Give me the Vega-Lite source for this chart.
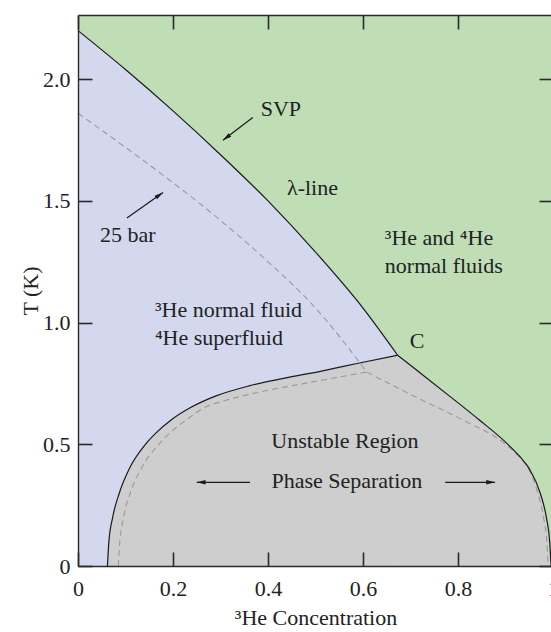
{
  "$schema": "https://vega.github.io/schema/vega-lite/v6.json",
  "width": 475,
  "height": 551,
  "autosize": {"type": "none"},
  "padding": {"left": 78, "top": 15, "right": 0, "bottom": 66},
  "background": "white",
  "config": {
    "view": {"fill": "#d4d8ee", "stroke": null},
    "axis": {
      "labelFont": "Liberation Serif", "labelFontSize": 22, "labelColor": "#222",
      "titleFont": "Liberation Serif", "titleFontSize": 22, "titleFontWeight": "normal", "titleColor": "#222",
      "grid": false, "tickSize": -14, "tickColor": "#2a2a2a", "tickWidth": 1.6,
      "domainColor": "#2a2a2a", "domainWidth": 1.4, "labelFlush": false, "labelOverlap": false
    },
    "text": {"font": "Liberation Serif", "fontSize": 22, "color": "#222"}
  },
  "datasets": {
    "curves": [
      {"curve": "lambda", "x": 0, "T": 2.2},
      {"curve": "lambda", "x": 0.1, "T": 2.04},
      {"curve": "lambda", "x": 0.2, "T": 1.87},
      {"curve": "lambda", "x": 0.3, "T": 1.69},
      {"curve": "lambda", "x": 0.4, "T": 1.5},
      {"curve": "lambda", "x": 0.5, "T": 1.29},
      {"curve": "lambda", "x": 0.6, "T": 1.06},
      {"curve": "lambda", "x": 0.673, "T": 0.866},
      {"curve": "domeL", "x": 0.062, "T": 0},
      {"curve": "domeL", "x": 0.065, "T": 0.1},
      {"curve": "domeL", "x": 0.073, "T": 0.2},
      {"curve": "domeL", "x": 0.087, "T": 0.3},
      {"curve": "domeL", "x": 0.108, "T": 0.4},
      {"curve": "domeL", "x": 0.142, "T": 0.5},
      {"curve": "domeL", "x": 0.166, "T": 0.55},
      {"curve": "domeL", "x": 0.196, "T": 0.6},
      {"curve": "domeL", "x": 0.236, "T": 0.65},
      {"curve": "domeL", "x": 0.292, "T": 0.7},
      {"curve": "domeL", "x": 0.36, "T": 0.74},
      {"curve": "domeL", "x": 0.43, "T": 0.77},
      {"curve": "domeL", "x": 0.51, "T": 0.8},
      {"curve": "domeL", "x": 0.59, "T": 0.833},
      {"curve": "domeL", "x": 0.673, "T": 0.866},
      {"curve": "domeR", "x": 0.673, "T": 0.866},
      {"curve": "domeR", "x": 0.716, "T": 0.8},
      {"curve": "domeR", "x": 0.781, "T": 0.7},
      {"curve": "domeR", "x": 0.845, "T": 0.6},
      {"curve": "domeR", "x": 0.905, "T": 0.5},
      {"curve": "domeR", "x": 0.93, "T": 0.45},
      {"curve": "domeR", "x": 0.95, "T": 0.4},
      {"curve": "domeR", "x": 0.973, "T": 0.3},
      {"curve": "domeR", "x": 0.986, "T": 0.2},
      {"curve": "domeR", "x": 0.993, "T": 0.1},
      {"curve": "domeR", "x": 0.996, "T": 0},
      {"curve": "domeR", "x": 1, "T": 0},
      {"curve": "lam25", "x": 0, "T": 1.86},
      {"curve": "lam25", "x": 0.1, "T": 1.72},
      {"curve": "lam25", "x": 0.2, "T": 1.575},
      {"curve": "lam25", "x": 0.3, "T": 1.42},
      {"curve": "lam25", "x": 0.4, "T": 1.25},
      {"curve": "lam25", "x": 0.5, "T": 1.06},
      {"curve": "lam25", "x": 0.608, "T": 0.797},
      {"curve": "dome25L", "x": 0.085, "T": 0},
      {"curve": "dome25L", "x": 0.088, "T": 0.1},
      {"curve": "dome25L", "x": 0.096, "T": 0.2},
      {"curve": "dome25L", "x": 0.11, "T": 0.3},
      {"curve": "dome25L", "x": 0.133, "T": 0.4},
      {"curve": "dome25L", "x": 0.17, "T": 0.5},
      {"curve": "dome25L", "x": 0.195, "T": 0.55},
      {"curve": "dome25L", "x": 0.228, "T": 0.6},
      {"curve": "dome25L", "x": 0.265, "T": 0.65},
      {"curve": "dome25L", "x": 0.31, "T": 0.68},
      {"curve": "dome25L", "x": 0.36, "T": 0.705},
      {"curve": "dome25L", "x": 0.42, "T": 0.73},
      {"curve": "dome25L", "x": 0.49, "T": 0.755},
      {"curve": "dome25L", "x": 0.608, "T": 0.797},
      {"curve": "dome25R", "x": 0.608, "T": 0.797},
      {"curve": "dome25R", "x": 0.705, "T": 0.7},
      {"curve": "dome25R", "x": 0.81, "T": 0.6},
      {"curve": "dome25R", "x": 0.9, "T": 0.5},
      {"curve": "dome25R", "x": 0.928, "T": 0.45},
      {"curve": "dome25R", "x": 0.948, "T": 0.4},
      {"curve": "dome25R", "x": 0.968, "T": 0.3},
      {"curve": "dome25R", "x": 0.98, "T": 0.2},
      {"curve": "dome25R", "x": 0.987, "T": 0.1},
      {"curve": "dome25R", "x": 0.99, "T": 0}
    ],
    "labelsLeft": [
      {"label": "³He and ⁴He", "x": 0.646, "T": 1.347},
      {"label": "normal fluids", "x": 0.646, "T": 1.232},
      {"label": "³He normal fluid", "x": 0.162, "T": 1.051},
      {"label": "⁴He superfluid", "x": 0.162, "T": 0.936},
      {"label": "λ-line", "x": 0.44, "T": 1.553}
    ],
    "labelsCenter": [
      {"label": "SVP", "x": 0.427, "T": 1.877},
      {"label": "25 bar", "x": 0.105, "T": 1.359},
      {"label": "C", "x": 0.714, "T": 0.923},
      {"label": "Unstable Region", "x": 0.562, "T": 0.512},
      {"label": "Phase Separation", "x": 0.566, "T": 0.348}
    ],
    "arrows": [
      {"name": "svp", "x": 0.368, "T": 1.843, "x2": 0.305, "T2": 1.749},
      {"name": "bar25", "x": 0.103, "T": 1.43, "x2": 0.179, "T2": 1.535},
      {"name": "left", "x": 0.362, "T": 0.344, "x2": 0.25, "T2": 0.344},
      {"name": "right", "x": 0.773, "T": 0.344, "x2": 0.878, "T2": 0.344}
    ]
  },
  "resolve": {"axis": {"x": "independent", "y": "independent"}},
  "layer": [
    {
      "data": {"name": "curves"},
      "transform": [{"filter": "datum.curve == 'lambda' || datum.curve == 'domeR'"}],
      "mark": {"type": "area", "color": "#bfdeb6", "interpolate": "monotone", "opacity": 1},
      "encoding": {
        "x": {"field": "x", "type": "quantitative", "scale": {"domain": [0, 1], "nice": false, "zero": false}, "axis": null},
        "y": {"field": "T", "type": "quantitative", "scale": {"domain": [0, 2.264], "nice": false, "zero": false}, "axis": null},
        "y2": {"datum": 2.264},
        "detail": {"field": "curve"}
      }
    },
    {
      "data": {"name": "curves"},
      "transform": [{"filter": "datum.curve == 'domeL' || datum.curve == 'domeR'"}],
      "mark": {"type": "area", "color": "#cdcecd", "interpolate": "monotone", "opacity": 1},
      "encoding": {
        "x": {"field": "x", "type": "quantitative", "axis": null},
        "y": {"field": "T", "type": "quantitative", "axis": null},
        "y2": {"datum": 0},
        "detail": {"field": "curve"}
      }
    },
    {
      "data": {"name": "curves"},
      "transform": [{"filter": "datum.curve == 'lam25' || datum.curve == 'dome25L' || datum.curve == 'dome25R'"}],
      "mark": {"type": "line", "color": "#9a9a9a", "strokeWidth": 1.1, "strokeDash": [6, 4], "interpolate": "monotone"},
      "encoding": {
        "x": {"field": "x", "type": "quantitative", "axis": null},
        "y": {"field": "T", "type": "quantitative", "axis": null},
        "detail": {"field": "curve"}
      }
    },
    {
      "data": {"name": "curves"},
      "transform": [{"filter": "datum.curve == 'lambda' || datum.curve == 'domeL' || (datum.curve == 'domeR' && datum.x < 1)"}],
      "mark": {"type": "line", "color": "#1a1a1a", "strokeWidth": 1.2, "interpolate": "monotone"},
      "encoding": {
        "x": {"field": "x", "type": "quantitative", "axis": null},
        "y": {"field": "T", "type": "quantitative", "axis": null},
        "detail": {"field": "curve"}
      }
    },
    {
      "data": {"name": "arrows"},
      "mark": {"type": "rule", "color": "#1a1a1a", "strokeWidth": 1.2},
      "encoding": {
        "x": {"field": "x", "type": "quantitative", "axis": null},
        "y": {"field": "T", "type": "quantitative", "axis": null},
        "x2": {"field": "x2"},
        "y2": {"field": "T2"}
      }
    },
    {
      "data": {"name": "arrows"},
      "transform": [{"filter": "datum.name == 'svp'"}],
      "mark": {"type": "point", "shape": "M0,0L-0.55,2.2L0.55,2.2Z", "filled": true, "color": "#1a1a1a", "size": 64, "angle": 233, "opacity": 1},
      "encoding": {
        "x": {"field": "x2", "type": "quantitative", "axis": null},
        "y": {"field": "T2", "type": "quantitative", "axis": null}
      }
    },
    {
      "data": {"name": "arrows"},
      "transform": [{"filter": "datum.name == 'bar25'"}],
      "mark": {"type": "point", "shape": "M0,0L-0.55,2.2L0.55,2.2Z", "filled": true, "color": "#1a1a1a", "size": 64, "angle": 55, "opacity": 1},
      "encoding": {
        "x": {"field": "x2", "type": "quantitative", "axis": null},
        "y": {"field": "T2", "type": "quantitative", "axis": null}
      }
    },
    {
      "data": {"name": "arrows"},
      "transform": [{"filter": "datum.name == 'left'"}],
      "mark": {"type": "point", "shape": "M0,0L-0.55,2.2L0.55,2.2Z", "filled": true, "color": "#1a1a1a", "size": 64, "angle": 270, "opacity": 1},
      "encoding": {
        "x": {"field": "x2", "type": "quantitative", "axis": null},
        "y": {"field": "T2", "type": "quantitative", "axis": null}
      }
    },
    {
      "data": {"name": "arrows"},
      "transform": [{"filter": "datum.name == 'right'"}],
      "mark": {"type": "point", "shape": "M0,0L-0.55,2.2L0.55,2.2Z", "filled": true, "color": "#1a1a1a", "size": 64, "angle": 90, "opacity": 1},
      "encoding": {
        "x": {"field": "x2", "type": "quantitative", "axis": null},
        "y": {"field": "T2", "type": "quantitative", "axis": null}
      }
    },
    {
      "data": {"name": "labelsLeft"},
      "mark": {"type": "text", "align": "left", "baseline": "middle"},
      "encoding": {
        "x": {"field": "x", "type": "quantitative", "axis": null},
        "y": {"field": "T", "type": "quantitative", "axis": null},
        "text": {"field": "label"}
      }
    },
    {
      "data": {"name": "labelsCenter"},
      "mark": {"type": "text", "align": "center", "baseline": "middle"},
      "encoding": {
        "x": {"field": "x", "type": "quantitative", "axis": null},
        "y": {"field": "T", "type": "quantitative", "axis": null},
        "text": {"field": "label"}
      }
    },
    {
      "data": {"name": "curves"},
      "transform": [{"filter": "datum.curve == 'lambda'"}],
      "mark": {"type": "point", "opacity": 0},
      "encoding": {
        "x": {"field": "x", "type": "quantitative",
          "axis": {"orient": "top", "labels": false, "title": null, "values": [0, 0.2, 0.4, 0.6, 0.8, 1], "zindex": 2}},
        "y": {"field": "T", "type": "quantitative",
          "axis": {"orient": "right", "labels": false, "title": null, "values": [0, 0.5, 1, 1.5, 2], "zindex": 2}}
      }
    },
    {
      "data": {"name": "curves"},
      "transform": [{"filter": "datum.curve == 'lambda'"}],
      "mark": {"type": "point", "opacity": 0},
      "encoding": {
        "x": {"field": "x", "type": "quantitative",
          "axis": {"orient": "bottom", "title": "³He Concentration", "values": [0, 0.2, 0.4, 0.6, 0.8, 1],
            "labelExpr": "datum.value == 0 || datum.value == 1 ? format(datum.value, 'd') : format(datum.value, '.1f')",
            "labelPadding": 26, "titlePadding": 8, "zindex": 2}},
        "y": {"field": "T", "type": "quantitative",
          "axis": {"orient": "left", "title": "T (K)", "values": [0, 0.5, 1, 1.5, 2],
            "labelExpr": "datum.value == 0 ? '0' : format(datum.value, '.1f')",
            "labelPadding": 22, "titlePadding": 0, "zindex": 2}}
      }
    }
  ]
}
